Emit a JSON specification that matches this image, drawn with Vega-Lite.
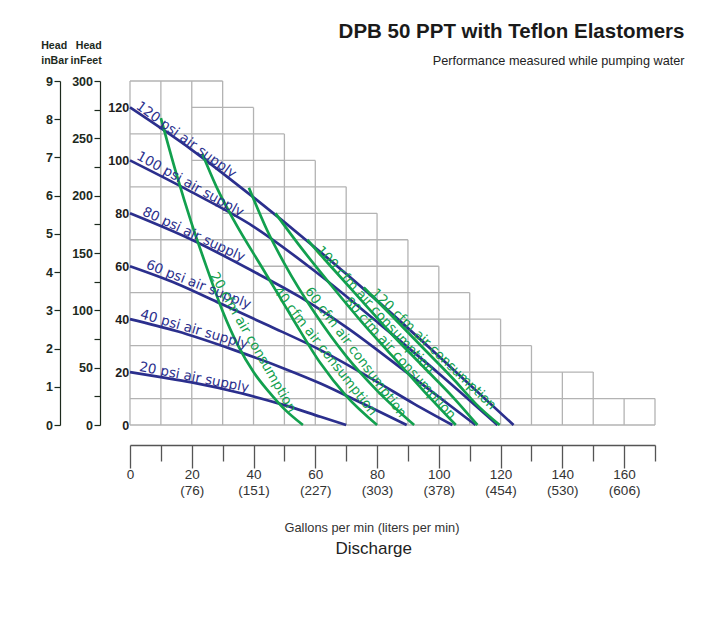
{
  "$schema": "https://vega.github.io/schema/vega-lite/v6.json",
  "autosize": {"type": "pad"},
  "padding": {"left": 40, "top": 22, "right": 5, "bottom": 5},
  "background": "white",
  "bounds": "flush",
  "spacing": 20,
  "resolve": {"scale": {"y": "independent", "x": "independent"}},
  "config": {"view": {"stroke": null}},
  "datasets": {
    "barAxis": [{"bar": 0}, {"bar": 9}],
    "ftAxis": [{"ft": 0}, {"ft": 300}],
    "grid": [
      {"gpm": 0, "gpm2": 0, "head": 0, "head2": 130},
      {"gpm": 10, "gpm2": 10, "head": 0, "head2": 130},
      {"gpm": 20, "gpm2": 20, "head": 0, "head2": 130},
      {"gpm": 30, "gpm2": 30, "head": 0, "head2": 130},
      {"gpm": 40, "gpm2": 40, "head": 0, "head2": 120},
      {"gpm": 50, "gpm2": 50, "head": 0, "head2": 110},
      {"gpm": 60, "gpm2": 60, "head": 0, "head2": 100},
      {"gpm": 70, "gpm2": 70, "head": 0, "head2": 90},
      {"gpm": 80, "gpm2": 80, "head": 0, "head2": 80},
      {"gpm": 90, "gpm2": 90, "head": 0, "head2": 70},
      {"gpm": 100, "gpm2": 100, "head": 0, "head2": 60},
      {"gpm": 110, "gpm2": 110, "head": 0, "head2": 50},
      {"gpm": 120, "gpm2": 120, "head": 0, "head2": 40},
      {"gpm": 130, "gpm2": 130, "head": 0, "head2": 30},
      {"gpm": 140, "gpm2": 140, "head": 0, "head2": 20},
      {"gpm": 150, "gpm2": 150, "head": 0, "head2": 20},
      {"gpm": 160, "gpm2": 160, "head": 0, "head2": 10},
      {"gpm": 170, "gpm2": 170, "head": 0, "head2": 10},
      {"gpm": 0, "gpm2": 170, "head": 0, "head2": 0},
      {"gpm": 0, "gpm2": 170, "head": 10, "head2": 10},
      {"gpm": 50, "gpm2": 150, "head": 20, "head2": 20},
      {"gpm": 0, "gpm2": 130, "head": 30, "head2": 30},
      {"gpm": 50, "gpm2": 120, "head": 40, "head2": 40},
      {"gpm": 0, "gpm2": 110, "head": 50, "head2": 50},
      {"gpm": 40, "gpm2": 100, "head": 60, "head2": 60},
      {"gpm": 0, "gpm2": 90, "head": 70, "head2": 70},
      {"gpm": 30, "gpm2": 80, "head": 80, "head2": 80},
      {"gpm": 0, "gpm2": 70, "head": 90, "head2": 90},
      {"gpm": 20, "gpm2": 60, "head": 100, "head2": 100},
      {"gpm": 0, "gpm2": 50, "head": 110, "head2": 110},
      {"gpm": 20, "gpm2": 40, "head": 120, "head2": 120},
      {"gpm": 0, "gpm2": 30, "head": 130, "head2": 130}
    ],
    "psi": [
      {"series": "120", "gpm": 0, "head": 120}, {"series": "120", "gpm": 20, "head": 104}, {"series": "120", "gpm": 40, "head": 86}, {"series": "120", "gpm": 60, "head": 67}, {"series": "120", "gpm": 80, "head": 47}, {"series": "120", "gpm": 100, "head": 26}, {"series": "120", "gpm": 124.2, "head": 0},
      {"series": "100", "gpm": 0, "head": 100}, {"series": "100", "gpm": 20, "head": 88}, {"series": "100", "gpm": 40, "head": 75}, {"series": "100", "gpm": 60, "head": 58}, {"series": "100", "gpm": 80, "head": 39}, {"series": "100", "gpm": 100, "head": 19.5}, {"series": "100", "gpm": 119, "head": 0},
      {"series": "80", "gpm": 0, "head": 80}, {"series": "80", "gpm": 20, "head": 70}, {"series": "80", "gpm": 40, "head": 58}, {"series": "80", "gpm": 55, "head": 48.4}, {"series": "80", "gpm": 70, "head": 37}, {"series": "80", "gpm": 90, "head": 19.5}, {"series": "80", "gpm": 111.9, "head": 0},
      {"series": "60", "gpm": 0, "head": 60}, {"series": "60", "gpm": 15, "head": 53.5}, {"series": "60", "gpm": 29.3, "head": 45.9}, {"series": "60", "gpm": 45, "head": 37.5}, {"series": "60", "gpm": 61.7, "head": 28.3}, {"series": "60", "gpm": 80, "head": 16.3}, {"series": "60", "gpm": 92, "head": 8}, {"series": "60", "gpm": 104.4, "head": 0},
      {"series": "40", "gpm": 0, "head": 40}, {"series": "40", "gpm": 15, "head": 35.5}, {"series": "40", "gpm": 34, "head": 28.2}, {"series": "40", "gpm": 50, "head": 21.3}, {"series": "40", "gpm": 61.7, "head": 15.7}, {"series": "40", "gpm": 75, "head": 8.3}, {"series": "40", "gpm": 89.6, "head": 0},
      {"series": "20", "gpm": 0, "head": 20}, {"series": "20", "gpm": 10, "head": 18.1}, {"series": "20", "gpm": 20, "head": 16.1}, {"series": "20", "gpm": 36, "head": 12}, {"series": "20", "gpm": 50, "head": 7.5}, {"series": "20", "gpm": 61.7, "head": 3.1}, {"series": "20", "gpm": 70, "head": 0}
    ],
    "cfm": [
      {"series": "20", "gpm": 10, "head": 116}, {"series": "20", "gpm": 15, "head": 95}, {"series": "20", "gpm": 20, "head": 76}, {"series": "20", "gpm": 25, "head": 59}, {"series": "20", "gpm": 30, "head": 43}, {"series": "20", "gpm": 35, "head": 30}, {"series": "20", "gpm": 40, "head": 20}, {"series": "20", "gpm": 45, "head": 12.5}, {"series": "20", "gpm": 50, "head": 6}, {"series": "20", "gpm": 56, "head": 0},
      {"series": "40", "gpm": 23.4, "head": 102.5}, {"series": "40", "gpm": 28, "head": 90}, {"series": "40", "gpm": 33.6, "head": 77.4}, {"series": "40", "gpm": 43.3, "head": 58.5}, {"series": "40", "gpm": 53, "head": 39.6}, {"series": "40", "gpm": 61.7, "head": 23.3}, {"series": "40", "gpm": 70, "head": 11}, {"series": "40", "gpm": 80, "head": 0},
      {"series": "60", "gpm": 38.5, "head": 89.7}, {"series": "60", "gpm": 44.4, "head": 73.6}, {"series": "60", "gpm": 50, "head": 61}, {"series": "60", "gpm": 60, "head": 42}, {"series": "60", "gpm": 70, "head": 26}, {"series": "60", "gpm": 80, "head": 13}, {"series": "60", "gpm": 92, "head": 0},
      {"series": "80", "gpm": 47.1, "head": 80}, {"series": "80", "gpm": 55.2, "head": 67.3}, {"series": "80", "gpm": 65, "head": 53}, {"series": "80", "gpm": 75, "head": 39}, {"series": "80", "gpm": 85, "head": 26}, {"series": "80", "gpm": 95, "head": 13}, {"series": "80", "gpm": 105.5, "head": 0},
      {"series": "100", "gpm": 57.4, "head": 70}, {"series": "100", "gpm": 65, "head": 60}, {"series": "100", "gpm": 75, "head": 47}, {"series": "100", "gpm": 85, "head": 34}, {"series": "100", "gpm": 95, "head": 22}, {"series": "100", "gpm": 105, "head": 10}, {"series": "100", "gpm": 112.5, "head": 0},
      {"series": "120", "gpm": 75.7, "head": 52}, {"series": "120", "gpm": 85, "head": 41}, {"series": "120", "gpm": 95, "head": 29}, {"series": "120", "gpm": 105, "head": 17}, {"series": "120", "gpm": 112, "head": 8}, {"series": "120", "gpm": 119.7, "head": 0}
    ],
    "labels": [
      {"key": "p120", "gpm": 1.7, "head": 119.8, "text": "120 psi air supply"},
      {"key": "p100", "gpm": 1.9, "head": 100.6, "text": "100 psi air supply"},
      {"key": "p80", "gpm": 3.7, "head": 79.5, "text": "80 psi air supply"},
      {"key": "p60", "gpm": 4.9, "head": 59.3, "text": "60 psi air supply"},
      {"key": "p40", "gpm": 3.1, "head": 40.4, "text": "40 psi air supply"},
      {"key": "p20", "gpm": 2.8, "head": 20.5, "text": "20 psi air supply"},
      {"key": "c20", "gpm": 25.8, "head": 56.5, "text": "20 cfm air consumption"},
      {"key": "c40", "gpm": 46.3, "head": 50.6, "text": "40 cfm air consumption"},
      {"key": "c60", "gpm": 56.5, "head": 50.5, "text": "60 cfm air consumption"},
      {"key": "c80", "gpm": 69.2, "head": 46.5, "text": "80 cfm air consumption"},
      {"key": "c100", "gpm": 60.1, "head": 65.8, "text": "100 cfm air consumption"},
      {"key": "c120", "gpm": 77.9, "head": 49.5, "text": "120 cfm air consumption"}
    ]
  },
  "hconcat": [
    {
      "width": 20, "height": 344,
      "data": {"name": "barAxis"},
      "mark": {"type": "point", "opacity": 0},
      "encoding": {
        "y": {"field": "bar", "type": "quantitative", "scale": {"domain": [0, 9], "nice": false},
          "axis": {"values": [0, 1, 2, 3, 4, 5, 6, 7, 8, 9], "grid": false, "labelFlush": false, "labelOverlap": false,
            "title": ["Head", "inBar"], "titleAngle": 0, "titleAlign": "left", "titleBaseline": "alphabetic", "titleX": -19.3, "titleY": -32.7, "titleLineHeight": 15,
            "titleFont": "Liberation Sans", "titleFontSize": 10.6, "titleFontWeight": "bold", "titleColor": "#1d2a1d",
            "tickSize": 6, "tickColor": "#1d2a1d", "tickWidth": 1.2, "domainColor": "#1d2a1d", "domainWidth": 1.2,
            "labelPadding": 1.5, "labelFont": "Liberation Sans", "labelFontSize": 12.5, "labelFontWeight": "bold", "labelColor": "#1d2a1d"}}
      }
    },
    {
      "width": 10, "height": 344,
      "data": {"name": "ftAxis"},
      "mark": {"type": "point", "opacity": 0},
      "encoding": {
        "y": {"field": "ft", "type": "quantitative", "scale": {"domain": [0, 300], "nice": false},
          "axis": {"values": [0, 25, 50, 75, 100, 125, 150, 175, 200, 225, 250, 275, 300], "grid": false, "labelFlush": false, "labelOverlap": false,
            "labelExpr": "datum.value % 50 == 0 ? datum.label : ''",
            "title": ["Head", "inFeet"], "titleAngle": 0, "titleAlign": "right", "titleBaseline": "alphabetic", "titleX": 1.2, "titleY": -32.7, "titleLineHeight": 15,
            "titleFont": "Liberation Sans", "titleFontSize": 10.6, "titleFontWeight": "bold", "titleColor": "#1d2a1d",
            "tickSize": 6, "tickColor": "#1d2a1d", "tickWidth": 1.2, "domainColor": "#1d2a1d", "domainWidth": 1.2,
            "labelPadding": 1.5, "labelFont": "Liberation Sans", "labelFontSize": 12.5, "labelFontWeight": "bold", "labelColor": "#1d2a1d"}}
      }
    },
    {
      "width": 525, "height": 344,
      "title": {"text": "DPB 50 PPT with Teflon Elastomers", "subtitle": "Performance measured while pumping water", "anchor": "end", "frame": "group", "dx": 29.5, "offset": 13,
        "font": "Liberation Sans", "fontSize": 20.5, "fontWeight": "bold", "color": "#1a1a1a",
        "subtitleFont": "Liberation Sans", "subtitleFontSize": 12.7, "subtitleColor": "#222222", "subtitlePadding": 12},
      "resolve": {"axis": {"x": "independent"}},
      "layer": [
        {
          "encoding": {
            "x": {"field": "gpm", "type": "quantitative", "scale": {"domain": [0, 170], "nice": false},
              "axis": {"orient": "bottom", "values": [0, 20, 40, 60, 80, 100, 120, 140, 160], "offset": 20, "grid": false,
                "tickSize": 23, "tickColor": "#555555", "tickWidth": 1.3, "domainColor": "#555555", "domainWidth": 1.3,
                "labelFont": "Liberation Sans", "labelFontSize": 13.5, "labelColor": "#333333", "labelPadding": -0.5, "labelBaseline": "top",
                "labelFlush": false, "labelOverlap": false, "labelBound": false,
                "title": "Gallons per min (liters per min)", "titleFont": "Liberation Sans", "titleFontSize": 12.8, "titleFontWeight": "normal", "titleColor": "#333333",
                "titleX": 241.5, "titleY": 86, "titleAlign": "center", "titleBaseline": "alphabetic"}},
            "y": {"field": "head", "type": "quantitative", "scale": {"domain": [0, 130], "nice": false},
              "axis": {"values": [0, 20, 40, 60, 80, 100, 120], "ticks": false, "domain": false, "grid": false, "title": null,
                "labelPadding": 1.3, "labelFont": "Liberation Sans", "labelFontSize": 12.5, "labelFontWeight": "bold", "labelColor": "#1d1d1d",
                "labelFlush": false, "labelOverlap": false}}
          },
          "layer": [
            {"data": {"name": "grid"}, "mark": {"type": "rule", "color": "#b3b3b3", "strokeWidth": 1.3},
              "encoding": {"x2": {"field": "gpm2"}, "y2": {"field": "head2"}}},
            {"data": {"name": "psi"}, "mark": {"type": "line", "color": "#2b2f8d", "strokeWidth": 2.7, "interpolate": "monotone"},
              "encoding": {"detail": {"field": "series"}}},
            {"data": {"name": "cfm"}, "mark": {"type": "line", "color": "#12a04e", "strokeWidth": 2.7, "interpolate": "monotone"},
              "encoding": {"detail": {"field": "series"}}},
            {"data": {"name": "labels"}, "transform": [{"filter": "datum.key == 'p120'"}], "mark": {"type": "text", "angle": 36, "align": "left", "baseline": "alphabetic", "font": "DejaVu Sans", "fontSize": 13.5, "color": "#2b2f8d"}, "encoding": {"text": {"field": "text"}}},
            {"data": {"name": "labels"}, "transform": [{"filter": "datum.key == 'p100'"}], "mark": {"type": "text", "angle": 29, "align": "left", "baseline": "alphabetic", "font": "DejaVu Sans", "fontSize": 13.5, "color": "#2b2f8d"}, "encoding": {"text": {"field": "text"}}},
            {"data": {"name": "labels"}, "transform": [{"filter": "datum.key == 'p80'"}], "mark": {"type": "text", "angle": 25, "align": "left", "baseline": "alphabetic", "font": "DejaVu Sans", "fontSize": 13.5, "color": "#2b2f8d"}, "encoding": {"text": {"field": "text"}}},
            {"data": {"name": "labels"}, "transform": [{"filter": "datum.key == 'p60'"}], "mark": {"type": "text", "angle": 21.5, "align": "left", "baseline": "alphabetic", "font": "DejaVu Sans", "fontSize": 13.5, "color": "#2b2f8d"}, "encoding": {"text": {"field": "text"}}},
            {"data": {"name": "labels"}, "transform": [{"filter": "datum.key == 'p40'"}], "mark": {"type": "text", "angle": 16, "align": "left", "baseline": "alphabetic", "font": "DejaVu Sans", "fontSize": 13.5, "color": "#2b2f8d"}, "encoding": {"text": {"field": "text"}}},
            {"data": {"name": "labels"}, "transform": [{"filter": "datum.key == 'p20'"}], "mark": {"type": "text", "angle": 11, "align": "left", "baseline": "alphabetic", "font": "DejaVu Sans", "fontSize": 13.5, "color": "#2b2f8d"}, "encoding": {"text": {"field": "text"}}},
            {"data": {"name": "labels"}, "transform": [{"filter": "datum.key == 'c20'"}], "mark": {"type": "text", "angle": 60, "align": "left", "baseline": "alphabetic", "font": "DejaVu Sans", "fontSize": 13.4, "color": "#12a04e"}, "encoding": {"text": {"field": "text"}}},
            {"data": {"name": "labels"}, "transform": [{"filter": "datum.key == 'c40'"}], "mark": {"type": "text", "angle": 52, "align": "left", "baseline": "alphabetic", "font": "DejaVu Sans", "fontSize": 13.4, "color": "#12a04e"}, "encoding": {"text": {"field": "text"}}},
            {"data": {"name": "labels"}, "transform": [{"filter": "datum.key == 'c60'"}], "mark": {"type": "text", "angle": 53, "align": "left", "baseline": "alphabetic", "font": "DejaVu Sans", "fontSize": 13.4, "color": "#12a04e"}, "encoding": {"text": {"field": "text"}}},
            {"data": {"name": "labels"}, "transform": [{"filter": "datum.key == 'c80'"}], "mark": {"type": "text", "angle": 48, "align": "left", "baseline": "alphabetic", "font": "DejaVu Sans", "fontSize": 13.4, "color": "#12a04e"}, "encoding": {"text": {"field": "text"}}},
            {"data": {"name": "labels"}, "transform": [{"filter": "datum.key == 'c100'"}], "mark": {"type": "text", "angle": 47.5, "align": "left", "baseline": "alphabetic", "font": "DejaVu Sans", "fontSize": 13.4, "color": "#12a04e"}, "encoding": {"text": {"field": "text"}}},
            {"data": {"name": "labels"}, "transform": [{"filter": "datum.key == 'c120'"}], "mark": {"type": "text", "angle": 44, "align": "left", "baseline": "alphabetic", "font": "DejaVu Sans", "fontSize": 13.4, "color": "#12a04e"}, "encoding": {"text": {"field": "text"}}}
          ]
        },
        {
          "data": {"name": "grid"},
          "mark": {"type": "rule", "opacity": 0},
          "encoding": {
            "x": {"field": "gpm", "type": "quantitative", "scale": {"domain": [0, 170], "nice": false},
              "axis": {"orient": "bottom", "values": [10, 30, 50, 70, 90, 110, 130, 150, 170], "offset": 20, "grid": false, "domain": false, "labels": false,
                "tickSize": 16, "tickColor": "#555555", "tickWidth": 1.3,
                "title": "Discharge", "titleFont": "Liberation Sans", "titleFontSize": 17, "titleFontWeight": "normal", "titleColor": "#222222",
                "titleX": 243.2, "titleY": 108.3, "titleAlign": "center", "titleBaseline": "alphabetic"}}
          }
        },
        {
          "data": {"name": "grid"},
          "mark": {"type": "rule", "opacity": 0},
          "encoding": {
            "x": {"field": "gpm", "type": "quantitative", "scale": {"domain": [0, 170], "nice": false},
              "axis": {"orient": "bottom", "values": [20, 40, 60, 80, 100, 120, 140, 160], "offset": 20, "grid": false, "domain": false, "ticks": false, "tickSize": 0,
                "labelExpr": "'(' + ['76','151','227','303','378','454','530','606'][datum.value / 20 - 1] + ')'",
                "labelFont": "Liberation Sans", "labelFontSize": 13.5, "labelColor": "#333333", "labelPadding": 38.8, "labelBaseline": "top",
                "labelFlush": false, "labelOverlap": false, "labelBound": false, "title": null}}
          }
        }
      ]
    }
  ]
}
